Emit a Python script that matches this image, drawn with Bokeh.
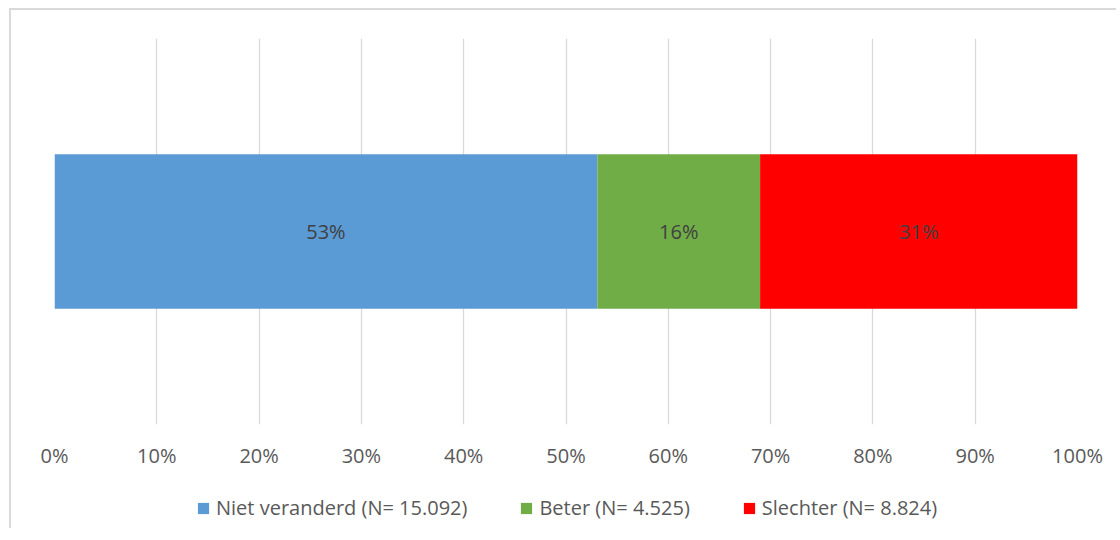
from bokeh.plotting import figure
from bokeh.layouts import column
from bokeh.models import Range1d, FixedTicker, NumeralTickFormatter, Legend, LegendItem, ColumnDataSource
from bokeh.embed import file_html
from bokeh.resources import INLINE
from bokeh.core.properties import value

# Data
categories = ["Niet veranderd", "Beter", "Slechter"]
counts = [15092, 4525, 8824]
legend_labels = ["Niet veranderd (N= 15.092)", "Beter (N= 4.525)", "Slechter (N= 8.824)"]
colors = ["#5B9BD5", "#70AD47", "#FF0000"]
tick_values = [0, 0.1, 0.2, 0.3, 0.4, 0.5, 0.6, 0.7, 0.8, 0.9, 1.0]

total = sum(counts)
shares = [c / total for c in counts]
lefts, rights = [], []
acc = 0.0
for s in shares:
    lefts.append(acc)
    acc += s
    rights.append(acc)
centers = [(l + r) / 2 for l, r in zip(lefts, rights)]
pct_labels = [f"{round(s * 100):d}%" for s in shares]

FONT = "Open Sans"
FS = "20px"
W = 1105

# Main chart
p = figure(width=W, height=470, output_backend="svg", toolbar_location=None,
           x_range=Range1d(0, 1), y_range=Range1d(0, 1),
           min_border_left=43, min_border_right=39, min_border_top=28, min_border_bottom=56)
p.outline_line_color = None
p.background_fill_color = "white"
p.border_fill_color = "white"

p.yaxis.visible = False
p.ygrid.grid_line_color = None
p.xgrid.grid_line_color = "#d9d9d9"
p.xgrid.grid_line_width = 1.3
p.xgrid.ticker = FixedTicker(ticks=tick_values)

xa = p.xaxis[0]
xa.ticker = FixedTicker(ticks=tick_values)
xa.formatter = NumeralTickFormatter(format="0%")
xa.axis_line_color = None
xa.major_tick_line_color = None
xa.minor_tick_line_color = None
xa.major_tick_out = 0
xa.major_tick_in = 0
xa.major_label_text_font = FONT
xa.major_label_text_font_size = FS
xa.major_label_text_color = "#595959"
xa.major_label_standoff = 17

src = ColumnDataSource(dict(center=centers, pct=pct_labels, y=[0.5] * 3))
for i in range(len(categories)):
    p.hbar(y=[0.5], left=[lefts[i]], right=[rights[i]], height=0.4,
           fill_color=colors[i], line_color=None)

p.text(x="center", y="y", text="pct", source=src, text_align="center", text_baseline="middle",
       text_font=value(FONT), text_font_size=FS, text_color="#404040")

# Legend strip (its swatches come from the same series, drawn outside the strip's visible range)
lg = figure(width=W, height=48, output_backend="svg", toolbar_location=None,
            x_range=Range1d(0, 1), y_range=Range1d(2, 3),
            x_axis_type=None, y_axis_type=None,
            min_border_left=0, min_border_right=0, min_border_top=0, min_border_bottom=0)
lg.outline_line_color = None
lg.grid.visible = False
lg.background_fill_color = "white"
lg.border_fill_color = "white"
items = []
for i in range(len(categories)):
    r = lg.hbar(y=[0.5], left=[lefts[i]], right=[rights[i]], height=0.4,
                fill_color=colors[i], line_color=None)
    items.append(LegendItem(label=legend_labels[i], renderers=[r]))

legend = Legend(items=items, orientation="horizontal", location=(142, 7),
                glyph_width=14, glyph_height=14, label_standoff=6, spacing=52,
                label_text_font=FONT, label_text_font_size=FS, label_text_color="#595959",
                border_line_color=None, background_fill_alpha=0, padding=0, margin=0)
lg.add_layout(legend, "center")

layout = column(p, lg, spacing=0)
layout.styles = {"margin-left": "9px", "margin-top": "8px",
                 "border-left": "2px solid #d9d9d9", "border-top": "2px solid #d9d9d9"}

open("out.html", "w").write(file_html(layout, INLINE))
